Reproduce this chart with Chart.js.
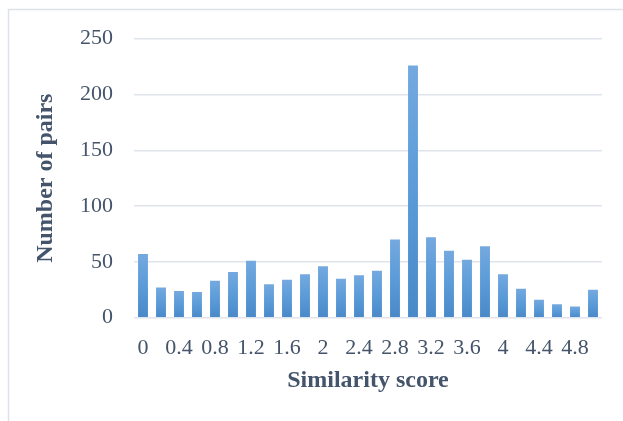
<!DOCTYPE html>
<html>
<head>
<meta charset="utf-8">
<script src="https://cdn.jsdelivr.net/npm/chart.js@4.4.1/dist/chart.umd.min.js"></script>
<style>
  html,body{margin:0;padding:0;background:#fff;}
  #wrap{position:relative;width:623px;height:421px;}
</style>
</head>
<body>
<div id="wrap"><canvas id="simChart"></canvas></div>
<script>
// similarity score bins (0 .. 5 step 0.2)
const scores = ["0","0.2","0.4","0.6","0.8","1","1.2","1.4","1.6","1.8","2","2.2","2.4",
  "2.6","2.8","3","3.2","3.4","3.6","3.8","4","4.2","4.4","4.6","4.8","5"];
const pairCounts = [57,27,24,23,33,41,51,30,34,39,46,35,38,42,70,226,72,60,52,64,39,26,16,12,10,25];
const yTicks = [0,50,100,150,200,250];

const TXT = "#44546a";

// light frame seen on top/left of the original figure
const framePlugin = {
  id:"frame",
  beforeDraw(chart){
    const c = chart.ctx;
    c.save();
    c.strokeStyle = "#dde2e9";
    c.lineWidth = 1.5;
    c.beginPath();
    c.moveTo(8.5, 421); c.lineTo(8.5, 9.5); c.lineTo(623, 9.5);
    c.stroke();
    c.restore();
  }
};

function barFill(ctx){
  const chart = ctx.chart;
  const ys = chart.scales.y;
  if(!chart.chartArea || !ys || ctx.parsed == null) return "#5b9bd5";
  const top = ys.getPixelForValue(ctx.parsed.y);
  const base = ys.getPixelForValue(0);
  if(!isFinite(top) || !isFinite(base) || base - top < 1) return "#5b9bd5";
  const g = chart.ctx.createLinearGradient(0, top, 0, base);
  g.addColorStop(0, "#74a9df");
  g.addColorStop(0.5, "#5b9bd8");
  g.addColorStop(1, "#4a89c8");
  return g;
}

new Chart(document.getElementById("simChart"), {
  type:"bar",
  data:{
    labels:scores,
    datasets:[{
      label:"Number of pairs",
      data:pairCounts,
      backgroundColor:barFill,
      borderWidth:0,
      barPercentage:0.55,
      categoryPercentage:1
    }]
  },
  options:{
    responsive:true,
    maintainAspectRatio:false,
    animation:false,
    layout:{padding:{left:0,right:21,top:38.7,bottom:0}},
    plugins:{legend:{display:false},tooltip:{enabled:false}},
    scales:{
      x:{
        grid:{display:false},
        border:{display:false},
        ticks:{
          color:TXT, autoSkip:false, maxRotation:0, padding:9,
          font:{family:"'Liberation Serif','Times New Roman',serif", size:22},
          callback(v, i){ return i % 2 === 0 ? scores[i] : ""; }
        },
        title:{display:true, text:"Similarity score", color:TXT,
          font:{family:"'Liberation Serif','Times New Roman',serif", size:24, weight:"bold"},
          padding:{top:0,bottom:26}},
        afterFit(s){ s.height = 103.3; }
      },
      y:{
        min:0, max:250,
        afterBuildTicks(s){ s.ticks = yTicks.map(v => ({value:v})); },
        grid:{color:"#dfe4ec", lineWidth:1.5, drawTicks:false},
        border:{display:false},
        ticks:{
          color:TXT, padding:21,
          font:{family:"'Liberation Serif','Times New Roman',serif", size:22}
        },
        title:{display:true, text:"Number of pairs", color:TXT,
          font:{family:"'Liberation Serif','Times New Roman',serif", size:24, weight:"bold"},
          padding:{top:31,bottom:0}},
        afterFit(s){ s.width = 134; }
      }
    }
  },
  plugins:[framePlugin]
});
</script>
</body>
</html>
